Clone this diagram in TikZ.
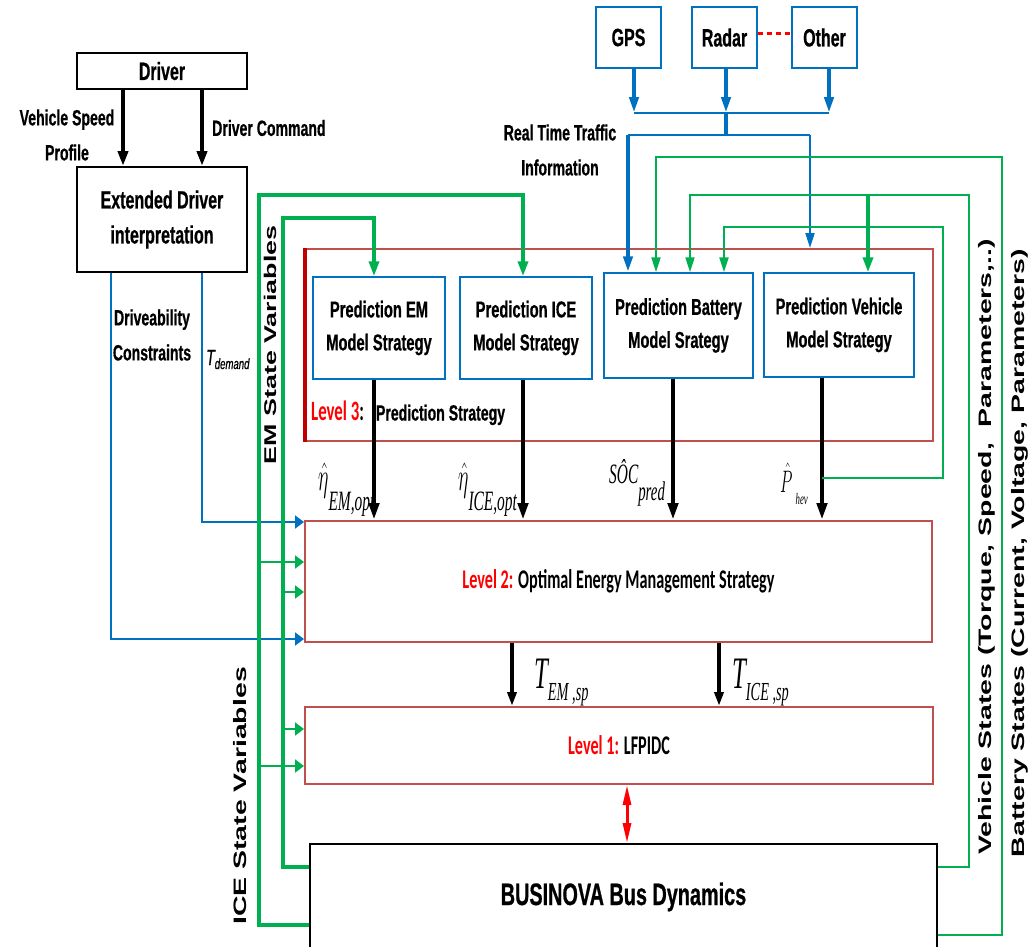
\documentclass[tikz,border=0pt]{standalone}
\usepackage{fontspec}
\usepackage{graphicx}
\usetikzlibrary{arrows.meta,calc}
\setmainfont{Liberation Sans}
\newfontfamily\nar[FakeStretch=0.64,FakeBold=0.6]{Liberation Sans}
\newfontfamily\calnar[FakeStretch=0.6]{Carlito}
\newfontfamily\wide[FakeStretch=1.58]{Liberation Sans}
\newfontfamily\sernar[FakeStretch=0.55]{Liberation Serif}
\definecolor{cblue}{HTML}{0070C0}
\definecolor{cgreen}{HTML}{00B050}
\definecolor{csal}{HTML}{C0504D}
\definecolor{cdred}{HTML}{C00000}
\begin{document}
\begin{tikzpicture}[x=1pt,y=-1pt,
  blk/.style={draw=black, line width=2pt, inner sep=0pt, align=center, font=\nar\bfseries\fontsize{25}{35}\selectfont},
  pbox/.style={draw=cblue, line width=1.5pt, inner sep=0pt, align=center, font=\nar\bfseries\fontsize{23}{33}\selectfont},
  lvl/.style={draw=csal, line width=2pt, inner sep=0pt, align=center, font=\calnar\bfseries\fontsize{27}{27}\selectfont},
  lbl/.style={inner sep=0pt, align=center, font=\nar\bfseries\fontsize{22}{35}\selectfont},
  rot/.style={rotate=90, inner sep=0pt, font=\wide\bfseries\fontsize{18}{18}\selectfont},
  bka/.style={black, line width=4.5pt, -{Triangle[length=17pt,width=10pt]}},
  bkb/.style={black, line width=3.5pt, -{Triangle[length=14pt,width=9pt]}},
  bla/.style={cblue, line width=4pt, -{Triangle[length=16pt,width=9pt]}},
  blt/.style={cblue, line width=2pt, -{Triangle[length=15pt,width=9pt]}},
  bll/.style={cblue, line width=2pt},
  blh/.style={cblue, line width=2pt, -{Triangle[length=9pt,width=13pt]}},
  ga/.style={cgreen, line width=2pt, -{Triangle[length=15pt,width=9pt]}},
  gat/.style={cgreen, line width=3.5pt, -{Triangle[length=15pt,width=10pt]}},
  gh/.style={cgreen, line width=2pt, -{Triangle[length=9pt,width=13pt]}}]

\fill[white] (0,0) rectangle (1034,946);
\useasboundingbox (0,0) rectangle (1034,946);

% Driver part
\node[blk, minimum width=170pt, minimum height=36pt] (drv) at (162,71) {Driver};
\node[blk, minimum width=170pt, minimum height=105pt] (ext) at (162,219.5) {Extended Driver\\interpretation};
\draw[bka, line width=4pt, -{Triangle[length=15pt,width=10pt]}] ([xshift=-39pt]drv.south) -- ([xshift=-39pt]ext.north);
\draw[bka, line width=4pt, -{Triangle[length=15pt,width=10pt]}] ([xshift=40pt]drv.south) -- ([xshift=40pt]ext.north);
\node[lbl] (vsp) at (67,135) {Vehicle Speed\\Profile};
\node[lbl, anchor=west] (dcm) at (212,128) {Driver Command};

% Sensors
\node[pbox, font=\nar\bfseries\fontsize{25}{25}\selectfont, minimum width=65pt, minimum height=61pt] (gps) at (628.5,37.5) {GPS};
\node[pbox, font=\nar\bfseries\fontsize{25}{25}\selectfont, minimum width=65pt, minimum height=61pt] (radar) at (724.5,37.5) {Radar};
\node[pbox, font=\nar\bfseries\fontsize{25}{25}\selectfont, minimum width=65pt, minimum height=61pt] (other) at (824.5,37.5) {Other};
\draw[red, line width=2.5pt, dash pattern=on 5pt off 4pt] ([yshift=4pt]radar.east) -- ([yshift=4pt]other.west);
\coordinate (busL) at (634,113);
\coordinate (busM) at (726,113);
\coordinate (busR) at (829,113);
\coordinate (trM) at (726,135);
\coordinate (trL) at (628,135);
\coordinate (trR) at (810,135);
\draw[bla] (gps.south -| busL) -- (busL);
\draw[bla] (radar.south -| busM) -- (busM);
\draw[bla] (other.south -| busR) -- (busR);
\draw[bll] (busL) -- (busR);
\draw[cblue, line width=4pt] (busM) -- (trM);
\draw[bll] (trL) -- (trR);
\node[lbl] (rtt) at (560,150) {Real Time Traffic\\Information};

% Level 3
\node[lvl, minimum width=627pt, minimum height=192pt] (l3) at (619.5,345) {};
\draw[cdred, line width=4pt] (l3.north west) -- (l3.south west);
\node[pbox, minimum width=132pt, minimum height=102pt] (emb) at (379,328) {Prediction EM\\Model Strategy};
\node[pbox, minimum width=132pt, minimum height=102pt] (iceb) at (526,328) {Prediction ICE\\Model Strategy};
\node[pbox, minimum width=149pt, minimum height=105pt] (bat) at (678.5,325.5) {Prediction Battery\\Model Srategy};
\node[pbox, minimum width=150pt, minimum height=104pt] (veh) at (839,325) {Prediction Vehicle\\Model Strategy};
\node[anchor=west, inner sep=0pt] (l3t) at (311,413) {{\calnar\bfseries\fontsize{28}{28}\selectfont\color{red}Level 3}{\calnar\bfseries\fontsize{28}{28}\selectfont:}\hspace{12pt}{\nar\bfseries\fontsize{22}{22}\selectfont Prediction Strategy}};

\draw[bla] (trL) -- (trL |- bat.north);
\draw[blt] (trR) -- (trR |- l3.north);

% Level 2 and 1, bus
\node[lvl, minimum width=627pt, minimum height=121pt] (l2) at (618.5,581.5) {{\color{red}Level 2:} Optimal Energy Management Strategy};
\node[lvl, minimum width=628pt, minimum height=77pt] (l1) at (619,745.5) {{\color{red}Level 1:} LFPIDC};
\node[blk, minimum width=627pt, minimum height=106pt, font=\nar\bfseries\fontsize{31}{31}\selectfont] (bus) at (623.5,897) {BUSINOVA Bus Dynamics};

% prediction outputs
\coordinate (a1) at ([xshift=-5pt]emb.south);
\coordinate (a2) at ([xshift=-3pt]iceb.south);
\coordinate (a3) at ([xshift=-5.5pt]bat.south);
\coordinate (a4) at ([xshift=-17pt]veh.south);
\draw[bka] (a1) -- (a1 |- l2.north);
\draw[bka] (a2) -- (a2 |- l2.north);
\draw[bka] (a3) -- (a3 |- l2.north);
\draw[bka] (a4) -- (a4 |- l2.north);

\node[anchor=base west, inner sep=0pt] (etaem) at (318,490) {\scalebox{0.8}[1.6]{\Huge$\hat{\eta}$}\raisebox{-20pt}{\sernar\itshape\fontsize{28}{28}\selectfont EM,opt}};
\node[anchor=base west, inner sep=0pt] (etaice) at (458,490) {\scalebox{0.8}[1.6]{\Huge$\hat{\eta}$}\raisebox{-20pt}{\sernar\itshape\fontsize{28}{28}\selectfont ICE,opt}};
\node[anchor=base west, inner sep=0pt] (socp) at (609,483) {{\sernar\itshape\fontsize{28}{28}\selectfont SÔC}\raisebox{-17pt}{\sernar\itshape\fontsize{27}{27}\selectfont pred}};
\node[anchor=base west, inner sep=0pt] (phev) at (780,492) {\scalebox{0.65}[1.25]{\Huge$\hat{P}$}\hspace{3pt}\raisebox{-12pt}{\sernar\itshape\fontsize{16}{16}\selectfont hev}};

% Level 2 -> Level 1
\coordinate (b1) at ([xshift=-106.5pt]l2.south);
\coordinate (b2) at ([xshift=100.5pt]l2.south);
\draw[bkb] (b1) -- (b1 |- l1.north);
\draw[bkb] (b2) -- (b2 |- l1.north);
\node[anchor=base west, inner sep=0pt] (tem) at (534,688) {{\sernar\itshape\fontsize{45}{45}\selectfont T}\raisebox{-12pt}{\sernar\itshape\fontsize{26}{26}\selectfont EM ,sp}};
\node[anchor=base west, inner sep=0pt] (tice) at (732,688) {{\sernar\itshape\fontsize{45}{45}\selectfont T}\raisebox{-12pt}{\sernar\itshape\fontsize{26}{26}\selectfont ICE ,sp}};

% Level 1 <-> bus
\coordinate (r1) at ([xshift=8pt]l1.south);
\draw[red, line width=3pt, {Triangle[length=20pt,width=8pt]}-{Triangle[length=20pt,width=8pt]}] (r1) -- (r1 |- bus.north);

% Driver interpretation outputs
\coordinate (e1) at ([xshift=-51pt]ext.south);
\coordinate (e2) at ([xshift=40pt]ext.south);
\draw[blh] (e1) |- ([yshift=4pt]l2.south west);
\draw[blh] (e2) |- ([yshift=-2pt]l2.north west);
\node[lbl] (drc) at (152,335) {Driveability\\Constraints};
\node[anchor=base west, inner sep=0pt] (tdm) at (206,365) {{\nar\itshape\fontsize{22}{22}\selectfont T}\raisebox{-4pt}{\nar\itshape\fontsize{15}{15}\selectfont demand}};

% left green state lines
\draw[gat, line width=3.5pt] ([yshift=-28pt]bus.west) -| (259,195) -| ([xshift=-3pt]iceb.north);
\draw[gat, line width=3.5pt] ([yshift=30pt]bus.west) -| (283,218) -| ([xshift=-5pt]emb.north);
\coordinate (o1) at (259,562);
\coordinate (o2) at (283,592);
\coordinate (o3) at (283,729);
\coordinate (o4) at (259,766);
\draw[gh] (o1) -- (o1 -| l2.west);
\draw[gh] (o2) -- (o2 -| l2.west);
\draw[gh] (o3) -- (o3 -| l1.west);
\draw[gh] (o4) -- (o4 -| l1.west);
\node[rot, font=\wide\bfseries\fontsize{17}{17}\selectfont] (emv) at (270,345) {EM State Variables};
\node[rot] (icev) at (240,796) {ICE State Variables};

% right green state lines
\coordinate (ph) at (822,478);
\coordinate (vb) at (868,195);
\draw[ga, line width=2.5pt] (ph) -| (943,227) -| ([xshift=45.5pt]bat.north);
\draw[ga] ([yshift=30pt]bus.east) -| (969,195) -| ([xshift=11.5pt]bat.north);
\draw[gat] (vb) -- ([xshift=29pt]veh.north);
\draw[ga] ([yshift=-38pt]bus.east) -| (1002,157) -| ([xshift=-22.5pt]bat.north);
\node[rot] (vst) at (987,547) {Vehicle States (Torque, Speed,\ \ Parameters,..)};
\node[rot] (bst) at (1020,553) {Battery States (Current, Voltage, Parameters)};
\end{tikzpicture}
\end{document}
